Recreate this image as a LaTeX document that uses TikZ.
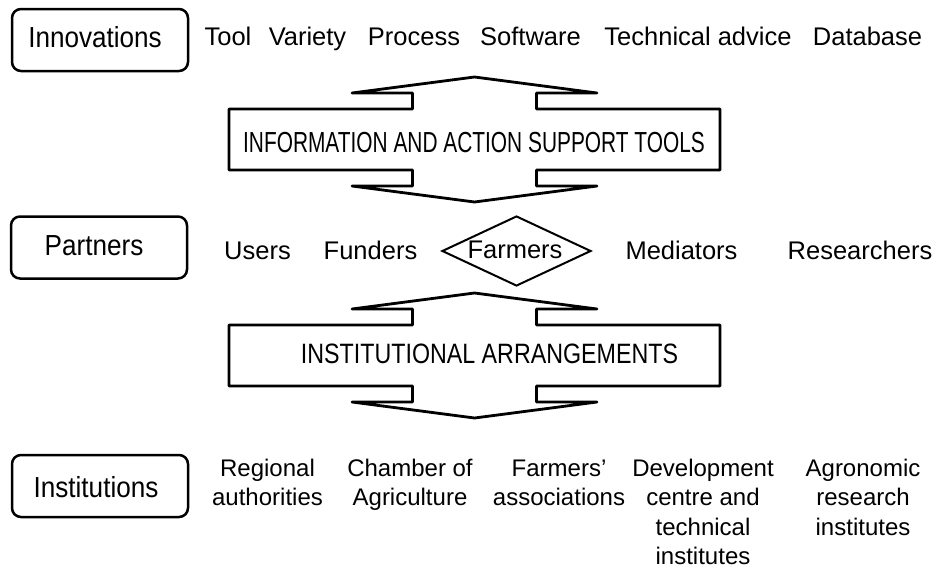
\documentclass[tikz,border=0pt]{standalone}
\usepackage{fontspec}
\setmainfont{Liberation Sans}
\newfontfamily\bandAfont[FakeStretch=0.72]{Liberation Sans}
\newfontfamily\bandBfont[FakeStretch=0.83]{Liberation Sans}
\newfontfamily\catfont[FakeStretch=0.9]{Liberation Sans}
\usetikzlibrary{shapes.geometric}
\begin{document}
\begin{tikzpicture}[x=1pt,y=-1pt,
  catbox/.style={draw, line width=2.5pt, rounded corners=9pt, minimum width=176pt,
    minimum height=62pt, inner sep=0pt},
  cattext/.style={anchor=base, inner sep=0pt, font=\catfont\fontsize{29}{30}\selectfont},
  item/.style={anchor=base, inner sep=0pt, font=\fontsize{25.5}{30}\selectfont},
  inst/.style={anchor=base, align=center, inner sep=0pt, font=\fontsize{24}{29.5}\selectfont},
  bandlabel/.style={anchor=base, inner sep=0pt},
  arrowline/.style={draw, line width=2.8pt, line join=round},
  pics/arrowframe/.style={code={
    \draw[arrowline] (-245.5,-30.5) -- (-62,-30.5) -- (-62,-46.5) -- (-122.5,-46.5)
      -- (0,-62.5) -- (122.5,-46.5) -- (62,-46.5) -- (62,-30.5) -- (245.5,-30.5)
      -- (245.5,30.5) -- (62,30.5) -- (62,46.5) -- (122.5,46.5) -- (0,62.5)
      -- (-122.5,46.5) -- (-62,46.5) -- (-62,30.5) -- (-245.5,30.5) -- cycle;
  }}]
\useasboundingbox (0,0) rectangle (939,571);

% category boxes
\node[catbox] (innov) at (100,40) {};
\node[cattext] (innovlbl) at (95,47) {Innovations};
\node[catbox] (partn) at (99,247.5) {};
\node[cattext] (partnlbl) at (94,255) {Partners};
\node[catbox] (instit) at (100,486) {};
\node[cattext] (institlbl) at (96,497) {Institutions};

% innovations row
\node[item] (tool) at (228,45) {Tool};
\node[item] (variety) at (307.5,45) {Variety};
\node[item] (process) at (414,45) {Process};
\node[item] (software) at (530.5,45) {Software};
\node[item] (techadv) at (698,45) {Technical advice};
\node[item] (database) at (867.5,45) {Database};

% first band
\pic at (474.5,139.5) {arrowframe};
\node[bandlabel, font=\bandAfont\fontsize{29}{30}\selectfont] (iast) at (474,152)
  {INFORMATION AND ACTION SUPPORT TOOLS};

% partners row
\node[item] (users) at (257.5,259) {Users};
\node[item] (funders) at (370.5,259) {Funders};
\node[draw, shape=diamond, line width=2pt, minimum width=149pt, minimum height=70pt,
  inner sep=0pt] (diam) at (516.5,251) {};
\node[item] (farmers) at (515,258) {Farmers};
\node[item] (mediators) at (681.5,259) {Mediators};
\node[item] (researchers) at (860,259) {Researchers};

% second band
\pic at (474.5,355.5) {arrowframe};
\node[bandlabel, font=\bandBfont\fontsize{28}{30}\selectfont] (instarr) at (489.5,363)
  {INSTITUTIONAL ARRANGEMENTS};

% institutions row (base anchor = last line)
\node[inst] (regional) at (267.5,505.5) {Regional\\authorities};
\node[inst] (chamber) at (410,505.5) {Chamber of\\Agriculture};
\node[inst] (farmassoc) at (559,505.5) {Farmers'\\associations};
\node[inst] (devcentre) at (703,564.5) {Development\\centre and\\technical\\institutes};
\node[inst] (agron) at (863,535) {Agronomic\\research\\institutes};
\end{tikzpicture}
\end{document}
